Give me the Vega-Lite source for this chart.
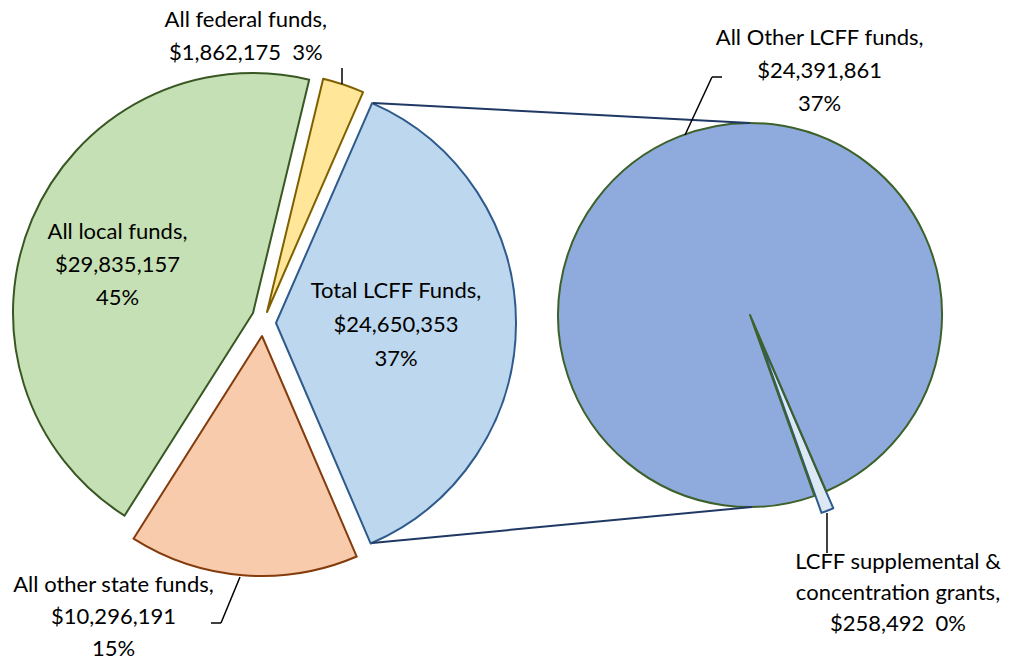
{
  "$schema": "https://vega.github.io/schema/vega-lite/v6.json",
  "width": 1024,
  "height": 662,
  "padding": 0,
  "autosize": {"type": "fit", "contains": "padding"},
  "background": "#ffffff",
  "view": {"stroke": null},
  "config": {"text": {"font": "Lato", "fontSize": 22, "lineHeight": 33, "fill": "#000000", "align": "center", "baseline": "middle"}},
  "datasets": {
    "funds": [
      {"pie": "main", "name": "Total LCFF Funds", "amount": 24650353, "order": 1},
      {"pie": "main", "name": "All other state funds", "amount": 10296191, "order": 2},
      {"pie": "main", "name": "All local funds", "amount": 29835157, "order": 3},
      {"pie": "main", "name": "All federal funds", "amount": 1862175, "order": 4},
      {"pie": "LCFF", "name": "LCFF supplemental & concentration grants", "amount": 258492, "order": 1},
      {"pie": "LCFF", "name": "All Other LCFF funds", "amount": 24391861, "order": 2}
    ]
  },
  "layer": [
    {
      "data": {"name": "funds"},
      "transform": [
        {"calculate": "datum.pie === 'main' ? datum.amount : 0", "as": "mainAmount"},
        {"joinaggregate": [{"op": "sum", "field": "mainAmount", "as": "grandTotal"}]},
        {"calculate": "datum.amount / datum.grandTotal", "as": "pct"},
        {"window": [{"op": "sum", "field": "amount", "as": "end"}], "groupby": ["pie"], "sort": [{"field": "order", "order": "ascending"}], "frame": [null, 0]},
        {"calculate": "datum.end - datum.amount", "as": "start"},
        {"calculate": "(datum.start + datum.end) / 2", "as": "mid"},
        {"calculate": "[datum.name + ',', '$' + format(datum.amount, ','), format(datum.pct, '.0%')]", "as": "label3"},
        {"calculate": "[datum.name + ',', '$' + format(datum.amount, ',') + '\u00a0\u00a0' + format(datum.pct, '.0%')]", "as": "label2"}
      ],
      "resolve": {"scale": {"theta": "independent"}},
      "layer": [
        {
          "transform": [{"filter": "datum.pie === 'main'"}],
          "layer": [
            {
              "transform": [{"filter": "datum.name === 'Total LCFF Funds'"}],
              "mark": {"type": "arc", "x": 276, "y": 323, "outerRadius": 240, "fill": "#bdd7ee", "stroke": "#2e5b8c", "strokeWidth": 2, "strokeJoin": "round"},
              "encoding": {"theta": {"field": "start", "type": "quantitative", "scale": {"domain": [0, 66643876], "range": [0.4119, 6.6951], "zero": false, "nice": false}}, "theta2": {"field": "end"}}
            },
            {
              "transform": [{"filter": "datum.name === 'All other state funds'"}],
              "mark": {"type": "arc", "x": 262, "y": 336, "outerRadius": 240, "fill": "#f8cbad", "stroke": "#843c0c", "strokeWidth": 2, "strokeJoin": "round"},
              "encoding": {"theta": {"field": "start", "type": "quantitative", "scale": {"domain": [0, 66643876], "range": [0.4119, 6.6951], "zero": false, "nice": false}}, "theta2": {"field": "end"}}
            },
            {
              "transform": [{"filter": "datum.name === 'All local funds'"}],
              "mark": {"type": "arc", "x": 253, "y": 313, "outerRadius": 240, "fill": "#c5e0b4", "stroke": "#385723", "strokeWidth": 2, "strokeJoin": "round"},
              "encoding": {"theta": {"field": "start", "type": "quantitative", "scale": {"domain": [0, 66643876], "range": [0.4119, 6.6951], "zero": false, "nice": false}}, "theta2": {"field": "end"}}
            },
            {
              "transform": [{"filter": "datum.name === 'All federal funds'"}],
              "mark": {"type": "arc", "x": 267, "y": 312, "outerRadius": 240, "fill": "#ffe699", "stroke": "#7f6000", "strokeWidth": 2, "strokeJoin": "round"},
              "encoding": {"theta": {"field": "start", "type": "quantitative", "scale": {"domain": [0, 66643876], "range": [0.4119, 6.6951], "zero": false, "nice": false}}, "theta2": {"field": "end"}}
            },
            {
              "transform": [{"filter": "datum.name === 'Total LCFF Funds'"}],
              "mark": {"type": "text", "x": 276, "y": 323, "radius": 120, "dy": -32, "lineHeight": 34},
              "encoding": {"theta": {"field": "mid", "type": "quantitative", "scale": {"domain": [0, 66643876], "range": [0.4119, 6.6951], "zero": false, "nice": false}}, "text": {"field": "label3", "type": "nominal"}}
            },
            {
              "transform": [{"filter": "datum.name === 'All local funds'"}],
              "mark": {"type": "text", "x": 253, "y": 313, "radius": 145, "dx": -2, "dy": -24},
              "encoding": {"theta": {"field": "mid", "type": "quantitative", "scale": {"domain": [0, 66643876], "range": [0.4119, 6.6951], "zero": false, "nice": false}}, "text": {"field": "label3", "type": "nominal"}}
            },
            {
              "transform": [{"filter": "datum.name === 'All other state funds'"}],
              "mark": {"type": "text", "x": 262, "y": 336, "radius": 270, "dx": -127, "dy": -20, "lineHeight": 32},
              "encoding": {"theta": {"field": "mid", "type": "quantitative", "scale": {"domain": [0, 66643876], "range": [0.4119, 6.6951], "zero": false, "nice": false}}, "text": {"field": "label3", "type": "nominal"}}
            },
            {
              "transform": [{"filter": "datum.name === 'All federal funds'"}],
              "mark": {"type": "text", "x": 267, "y": 312, "radius": 260, "dx": -104, "dy": -46},
              "encoding": {"theta": {"field": "mid", "type": "quantitative", "scale": {"domain": [0, 66643876], "range": [0.4119, 6.6951], "zero": false, "nice": false}}, "text": {"field": "label2", "type": "nominal"}}
            }
          ]
        },
        {
          "transform": [{"filter": "datum.pie === 'LCFF'"}],
          "layer": [
            {
              "transform": [{"filter": "datum.name === 'LCFF supplemental & concentration grants'"}],
              "mark": {"type": "arc", "x": 757, "y": 332, "outerRadius": 192, "fill": "#dde8f5", "stroke": "#2e5b8c", "strokeWidth": 2, "strokeJoin": "round"},
              "encoding": {"theta": {"field": "start", "type": "quantitative", "scale": {"domain": [0, 24650353], "range": [2.7332, 9.0164], "zero": false, "nice": false}}, "theta2": {"field": "end"}}
            },
            {
              "transform": [{"filter": "datum.name === 'All Other LCFF funds'"}],
              "mark": {"type": "arc", "x": 750, "y": 315, "outerRadius": 192, "fill": "#8faadc", "stroke": "#3c6129", "strokeWidth": 2, "strokeJoin": "round"},
              "encoding": {"theta": {"field": "start", "type": "quantitative", "scale": {"domain": [0, 24650353], "range": [2.7332, 9.0164], "zero": false, "nice": false}}, "theta2": {"field": "end"}}
            },
            {
              "transform": [{"filter": "datum.name === 'All Other LCFF funds'"}],
              "mark": {"type": "text", "x": 750, "y": 315, "radius": 200, "dx": 143, "dy": -91},
              "encoding": {"theta": {"field": "mid", "type": "quantitative", "scale": {"domain": [0, 24650353], "range": [2.7332, 9.0164], "zero": false, "nice": false}}, "text": {"field": "label3", "type": "nominal"}}
            },
            {
              "transform": [
                {"filter": "datum.name === 'LCFF supplemental & concentration grants'"},
                {"calculate": "[substring(datum.name, 0, 19), substring(datum.name, 20) + ',', '$' + format(datum.amount, ',') + '\u00a0\u00a0' + format(datum.pct, '.0%')]", "as": "labelSmall"}
              ],
              "mark": {"type": "text", "x": 757, "y": 332, "radius": 240, "dx": 53, "dy": 7, "lineHeight": 31},
              "encoding": {"theta": {"field": "mid", "type": "quantitative", "scale": {"domain": [0, 24650353], "range": [2.7332, 9.0164], "zero": false, "nice": false}}, "text": {"field": "labelSmall", "type": "nominal"}}
            }
          ]
        }
      ]
    },
    {"data": {"values": [{}]}, "mark": {"type": "rule", "stroke": "#1f3864", "strokeWidth": 2}, "encoding": {"x": {"value": 373}, "y": {"value": 103}, "x2": {"value": 750}, "y2": {"value": 123}}},
    {"data": {"values": [{}]}, "mark": {"type": "rule", "stroke": "#1f3864", "strokeWidth": 2}, "encoding": {"x": {"value": 372}, "y": {"value": 543}, "x2": {"value": 752}, "y2": {"value": 507}}},
    {"data": {"values": [{}]}, "mark": {"type": "rule", "stroke": "#000000", "strokeWidth": 1.5}, "encoding": {"x": {"value": 342}, "y": {"value": 68}, "x2": {"value": 342}, "y2": {"value": 84}}},
    {"data": {"values": [{}]}, "mark": {"type": "rule", "stroke": "#000000", "strokeWidth": 1.5}, "encoding": {"x": {"value": 722}, "y": {"value": 77}, "x2": {"value": 712}, "y2": {"value": 77}}},
    {"data": {"values": [{}]}, "mark": {"type": "rule", "stroke": "#000000", "strokeWidth": 1.5}, "encoding": {"x": {"value": 712}, "y": {"value": 77}, "x2": {"value": 685}, "y2": {"value": 135}}},
    {"data": {"values": [{}]}, "mark": {"type": "rule", "stroke": "#000000", "strokeWidth": 1.5}, "encoding": {"x": {"value": 240}, "y": {"value": 577}, "x2": {"value": 221}, "y2": {"value": 623}}},
    {"data": {"values": [{}]}, "mark": {"type": "rule", "stroke": "#000000", "strokeWidth": 1.5}, "encoding": {"x": {"value": 221}, "y": {"value": 623}, "x2": {"value": 211}, "y2": {"value": 623}}},
    {"data": {"values": [{}]}, "mark": {"type": "rule", "stroke": "#000000", "strokeWidth": 1.5}, "encoding": {"x": {"value": 827}, "y": {"value": 513}, "x2": {"value": 827}, "y2": {"value": 553}}}
  ]
}
